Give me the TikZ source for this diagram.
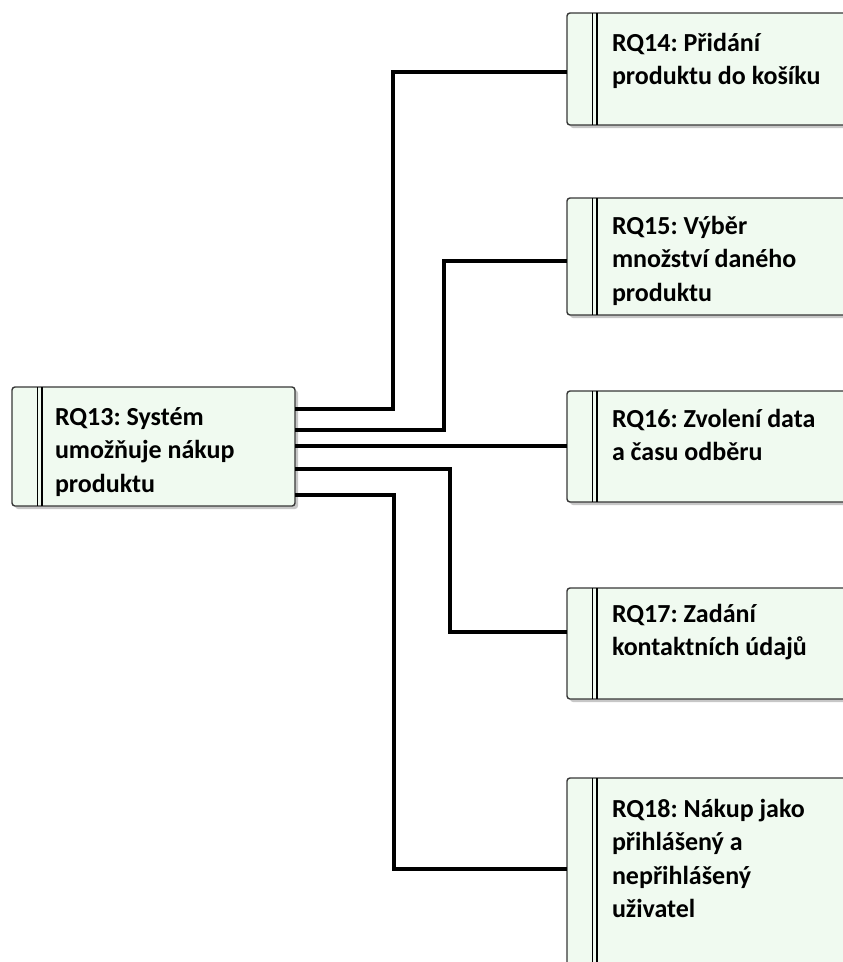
\documentclass[tikz,border=0pt]{standalone}
\usepackage{fontspec}
\setmainfont{Carlito}
\frenchspacing
\usetikzlibrary{shadows}
\definecolor{reqfill}{RGB}{240,250,240}
\definecolor{reqedge}{RGB}{55,55,55}
\tikzset{
  req/.style={draw=reqedge, line width=1.4pt, fill=reqfill, rounded corners=3pt,
    anchor=north west, inner sep=0pt, outer sep=0pt,
    drop shadow={shadow xshift=3pt, shadow yshift=-3pt, fill=black!22, opacity=1}},
  reqbar/.style={line width=1.8pt, black},
  reqtext/.style={anchor=base west, inner sep=0pt, outer sep=0pt,
    font=\bfseries\fontsize{26}{33.5}\selectfont},
  wire/.style={line width=3.2pt, black},
}
\newcommand{\reqlines}[1]{\parbox[t]{240pt}{\raggedright #1}}
\begin{document}
\begin{tikzpicture}[x=1pt, y=-1pt]
  \useasboundingbox (0,0) rectangle (843,962);
  \clip (0,0) rectangle (843,962);

  % requirement boxes
  \node[req, minimum width=283pt, minimum height=119pt] (rq13) at (12,387) {};
  \node[req, minimum width=313pt, minimum height=112pt] (rq14) at (567,13) {};
  \node[req, minimum width=313pt, minimum height=117pt] (rq15) at (567,198) {};
  \node[req, minimum width=313pt, minimum height=111pt] (rq16) at (567,391) {};
  \node[req, minimum width=313pt, minimum height=111pt] (rq17) at (567,588) {};
  \node[req, minimum width=313pt, minimum height=220pt] (rq18) at (567,778) {};

  % double bars along the left side of each box
  \foreach \b/\d in {rq13/25.5, rq13/30, rq14/25.5, rq14/30, rq15/25.5, rq15/30,
                     rq16/25.5, rq16/30, rq17/25.5, rq17/30, rq18/25.5, rq18/30} {
    \draw[reqbar] ([xshift=\d pt]\b.north west) -- ([xshift=\d pt]\b.south west);
  }

  % box texts
  \node[reqtext] (t13) at (55,425) {\reqlines{RQ13: Systém\\umožňuje nákup\\produktu}};
  \node[reqtext] (t14) at (612,51) {\reqlines{RQ14: Přidání\\produktu do košíku}};
  \node[reqtext] (t15) at (612,234) {\reqlines{RQ15: Výběr\\množství daného\\produktu}};
  \node[reqtext] (t16) at (612,427) {\reqlines{RQ16: Zvolení data\\a času odběru}};
  \node[reqtext] (t17) at (612,622) {\reqlines{RQ17: Zadání\\kontaktních údajů}};
  \node[reqtext] (t18) at (612,817) {\reqlines{RQ18: Nákup jako\\přihlášený a\\nepřihlášený\\uživatel}};

  % connectors
  \draw[wire] (rq13.east |- 0,409) -| (393,72) -- (rq14.west |- 0,72);
  \draw[wire] (rq13.east |- 0,430) -| (444,261) -- (rq15.west |- 0,261);
  \draw[wire] (rq13.east |- 0,446) -- (rq16.west |- 0,446);
  \draw[wire] (rq13.east |- 0,469) -| (450,632) -- (rq17.west |- 0,632);
  \draw[wire] (rq13.east |- 0,495) -| (394,869) -- (rq18.west |- 0,869);
\end{tikzpicture}
\end{document}
